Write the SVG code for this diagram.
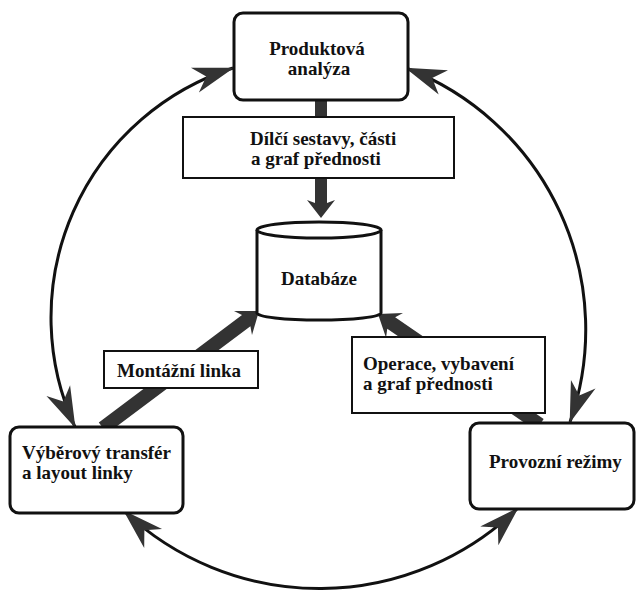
<svg xmlns="http://www.w3.org/2000/svg" width="636" height="591" viewBox="0 0 636 591">
<style>
.node{fill:#fff;stroke:#111;stroke-width:3}
.lbl{fill:#fff;stroke:#111;stroke-width:2}
.t{font-family:"Liberation Serif","Times New Roman",serif;font-weight:bold;font-size:19px;fill:#111}
.arc{fill:none;stroke:#111;stroke-width:3;marker-start:url(#ah);marker-end:url(#ah)}
.blk{fill:#333;stroke:none}
</style>
<defs>
<marker id="ah" markerUnits="userSpaceOnUse" markerWidth="44" markerHeight="32" viewBox="-42 -16 44 32" refX="0" refY="0" orient="auto-start-reverse">
<path d="M1,0 L-40,-13 L-28,0 L-40,13 Z" fill="#333"/>
</marker>
</defs>
<g id="connectors">
<path class="arc" d="M233,68 A262,262 0 0 0 75,427"/>
<path class="arc" d="M406,68 A280,280 0 0 1 570,422"/>
<path class="arc" d="M124,511 A285,285 0 0 0 518,508"/>
<polygon class="blk" transform="translate(321,218) rotate(90)" points="-118,-6 -15,-6 -18,-14 0,0 -18,14 -15,6 -118,6"/>
<polygon class="blk" transform="translate(259,311) rotate(-36.87)" points="-195,-7 -16,-7 -20,-15 0,0 -20,15 -16,7 -195,7"/>
<polygon class="blk" transform="translate(378,314) rotate(-145.6)" points="-196,-7 -16,-7 -20,-15 0,0 -20,15 -16,7 -196,7"/>
</g>
<g id="produktova">
<rect class="node" x="234" y="13" width="174" height="87" rx="9"/>
<text class="t" x="317" y="55" text-anchor="middle">Produktová</text>
<text class="t" x="319" y="75" text-anchor="middle">analýza</text>
</g>
<g id="dilci">
<rect class="lbl" x="183" y="117" width="271" height="61"/>
<text class="t" x="250" y="145">Dílčí sestavy, části</text>
<text class="t" x="251" y="165">a graf přednosti</text>
</g>
<g id="databaze">
<path class="node" d="M257,230 L257,313 A62,7 0 0 0 381,313 L381,230"/>
<ellipse class="node" cx="319" cy="230" rx="62" ry="8"/>
<text class="t" x="319" y="285" text-anchor="middle">Databáze</text>
</g>
<g id="montazni">
<rect class="lbl" x="104" y="351" width="154" height="37"/>
<text class="t" x="117" y="377">Montážní linka</text>
</g>
<g id="operace">
<rect class="lbl" x="352" y="337" width="193" height="76"/>
<text class="t" x="363" y="370">Operace, vybavení</text>
<text class="t" x="363" y="390">a graf přednosti</text>
</g>
<g id="vyberovy">
<rect class="node" x="10" y="427" width="173" height="86" rx="9"/>
<text class="t" x="22" y="459">Výběrový transfér</text>
<text class="t" x="22" y="479">a layout linky</text>
</g>
<g id="provozni">
<rect class="node" x="470" y="423" width="164" height="86" rx="9"/>
<text class="t" x="489" y="468">Provozní režimy</text>
</g>
</svg>
